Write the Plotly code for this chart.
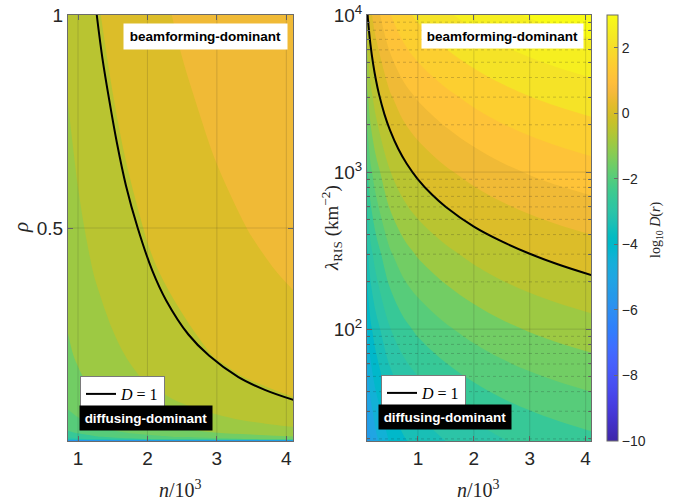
import math
import plotly.graph_objects as go

# ---------------- data ----------------
# left panel: x = n/10^3, y = rho, z = log10 D
n_left = [0.85, 1.0, 1.25, 1.5, 2.0, 2.5, 3.0, 3.5, 4.1]
rho_left = [0, 0.004, 0.01, 0.02, 0.035, 0.05, 0.075, 0.1, 0.15, 0.2, 0.3, 0.4, 0.5, 0.65, 0.8, 1.0]
logD_left = [
    [-7.0, -7.0, -7.0, -7.0, -7.0, -7.0, -7.0, -7.0, -7.0],
    [-2.78, -2.64, -2.44, -2.28, -2.03, -1.84, -1.68, -1.55, -1.41],
    [-2.38, -2.24, -2.04, -1.89, -1.64, -1.44, -1.28, -1.15, -1.01],
    [-2.08, -1.94, -1.74, -1.59, -1.34, -1.14, -0.98, -0.85, -0.71],
    [-1.84, -1.69, -1.50, -1.34, -1.09, -0.90, -0.74, -0.61, -0.47],
    [-1.68, -1.54, -1.35, -1.19, -0.94, -0.74, -0.59, -0.45, -0.31],
    [-1.50, -1.36, -1.17, -1.01, -0.76, -0.57, -0.41, -0.28, -0.14],
    [-1.38, -1.24, -1.04, -0.89, -0.64, -0.44, -0.28, -0.15, -0.01],
    [-1.20, -1.06, -0.86, -0.70, -0.45, -0.26, -0.10, 0.03, 0.17],
    [-1.08, -0.94, -0.74, -0.59, -0.34, -0.14, 0.02, 0.15, 0.29],
    [-0.94, -0.80, -0.60, -0.44, -0.19, 0.00, 0.16, 0.29, 0.43],
    [-0.81, -0.67, -0.47, -0.31, -0.06, 0.13, 0.29, 0.42, 0.56],
    [-0.71, -0.57, -0.38, -0.22, 0.03, 0.22, 0.38, 0.52, 0.65],
    [-0.60, -0.46, -0.26, -0.10, 0.15, 0.34, 0.50, 0.63, 0.77],
    [-0.50, -0.36, -0.16, -0.01, 0.25, 0.44, 0.60, 0.73, 0.87],
    [-0.38, -0.24, -0.05, 0.11, 0.36, 0.56, 0.71, 0.85, 0.99],
]

# right panel: x = n/10^3, y = lambda_RIS (km^-2), z = log10 D
n_right = [0.09, 0.15, 0.25, 0.5, 0.75, 1.0, 1.5, 2.0, 2.5, 3.0, 3.5, 4.1]
lam_right = [19, 30, 100, 300, 1000, 3000, 10000]
logD_right = [
    [-5.54, -5.06, -4.64, -3.96, -3.58, -3.34, -3.01, -2.76, -2.56, -2.40, -2.27, -2.14],
    [-5.15, -4.67, -4.25, -3.57, -3.19, -2.95, -2.62, -2.37, -2.17, -2.01, -1.88, -1.75],
    [-4.10, -3.62, -3.20, -2.52, -2.14, -1.90, -1.57, -1.32, -1.12, -0.96, -0.83, -0.70],
    [-3.15, -2.67, -2.25, -1.57, -1.19, -0.95, -0.62, -0.37, -0.17, -0.01, 0.12, 0.25],
    [-2.10, -1.62, -1.20, -0.52, -0.14, 0.10, 0.43, 0.68, 0.88, 1.04, 1.17, 1.30],
    [-1.15, -0.67, -0.25, 0.43, 0.81, 1.05, 1.38, 1.63, 1.83, 1.99, 2.12, 2.25],
    [-0.10, 0.38, 0.80, 1.48, 1.86, 2.10, 2.43, 2.68, 2.88, 3.04, 3.17, 3.30],
]

# D = 1 boundaries
d1_left_n = [1.27, 1.35, 1.45, 1.56, 1.69, 1.86, 2.07, 2.27, 2.59, 2.89, 3.31, 3.69, 4.11]
d1_left_rho = [1.0, 0.9, 0.8, 0.7, 0.6, 0.5, 0.4, 0.33, 0.25, 0.2, 0.15, 0.12, 0.096]
d1_right_n = [0.10, 0.12, 0.15, 0.2, 0.25, 0.3, 0.4, 0.5, 0.65, 0.8, 1.0, 1.25, 1.5, 2.0, 2.5, 3.0, 3.5, 4.1]
d1_right_lam = [10000, 8250, 6530, 4850, 3840, 3170, 2340, 1850, 1403, 1131, 900, 720, 600, 450, 362, 302, 259, 221]

x_ticks = [1, 2, 3, 4]
rho_ticks = [0.5, 1]
lam_ticks = [100, 1000, 10000]
lam_ticktext = ["10<sup>2</sup>", "10<sup>3</sup>", "10<sup>4</sup>"]
lam_minor = [20, 30, 40, 50, 60, 70, 80, 90, 200, 300, 400, 500, 600, 700, 800, 900,
             2000, 3000, 4000, 5000, 6000, 7000, 8000, 9000]
cbar_ticks = [-10, -8, -6, -4, -2, 0, 2]

# ---------------- styling ----------------
PARULA = [
    (0.2422, 0.1504, 0.6603), (0.2504, 0.1650, 0.7076), (0.2578, 0.1818, 0.7511), (0.2647, 0.1978, 0.7952),
    (0.2706, 0.2147, 0.8364), (0.2751, 0.2342, 0.8710), (0.2783, 0.2559, 0.8991), (0.2803, 0.2782, 0.9221),
    (0.2813, 0.3006, 0.9414), (0.2810, 0.3228, 0.9579), (0.2795, 0.3447, 0.9717), (0.2760, 0.3667, 0.9829),
    (0.2699, 0.3892, 0.9906), (0.2602, 0.4123, 0.9952), (0.2440, 0.4358, 0.9988), (0.2206, 0.4603, 0.9973),
    (0.1963, 0.4847, 0.9892), (0.1834, 0.5074, 0.9798), (0.1786, 0.5289, 0.9682), (0.1764, 0.5499, 0.9520),
    (0.1687, 0.5703, 0.9359), (0.1540, 0.5902, 0.9218), (0.1460, 0.6091, 0.9079), (0.1380, 0.6276, 0.8973),
    (0.1248, 0.6459, 0.8883), (0.1113, 0.6635, 0.8763), (0.0952, 0.6798, 0.8598), (0.0689, 0.6948, 0.8394),
    (0.0297, 0.7082, 0.8163), (0.0036, 0.7203, 0.7917), (0.0067, 0.7312, 0.7660), (0.0433, 0.7411, 0.7394),
    (0.0964, 0.7500, 0.7120), (0.1408, 0.7584, 0.6842), (0.1717, 0.7670, 0.6554), (0.1938, 0.7758, 0.6251),
    (0.2161, 0.7843, 0.5923), (0.2470, 0.7918, 0.5567), (0.2906, 0.7973, 0.5188), (0.3406, 0.8008, 0.4789),
    (0.3909, 0.8029, 0.4354), (0.4456, 0.8024, 0.3909), (0.5044, 0.7993, 0.3480), (0.5616, 0.7942, 0.3045),
    (0.6174, 0.7876, 0.2612), (0.6720, 0.7793, 0.2227), (0.7242, 0.7698, 0.1910), (0.7738, 0.7598, 0.1646),
    (0.8203, 0.7498, 0.1535), (0.8634, 0.7406, 0.1596), (0.9035, 0.7330, 0.1774), (0.9393, 0.7288, 0.2100),
    (0.9728, 0.7298, 0.2394), (0.9956, 0.7434, 0.2371), (0.9970, 0.7659, 0.2199), (0.9952, 0.7893, 0.2028),
    (0.9892, 0.8136, 0.1885), (0.9786, 0.8386, 0.1766), (0.9676, 0.8639, 0.1643), (0.9610, 0.8890, 0.1537),
    (0.9597, 0.9135, 0.1423), (0.9628, 0.9373, 0.1265), (0.9691, 0.9606, 0.1064), (0.9769, 0.9839, 0.0805),
]


def rgb(c):
    return "rgb(%d,%d,%d)" % tuple(round(v * 255) for v in c)


CMIN, CMAX = -10.0, 3.0
LSTART, LEND, LSTEP = -10.0, 3.5, 0.5
nlev = int(round((LEND - LSTART) / LSTEP)) + 1

cs_cont = [[i / 63, rgb(c)] for i, c in enumerate(PARULA)]

# band colours: each band takes the colour of its lower level (MATLAB contourf)
cs_fill = [[0.0, rgb(PARULA[0])]]
for k in range(nlev):
    L = LSTART + k * LSTEP
    p = (L - LSTART + LSTEP) / (LSTEP * nlev)
    idx = int(math.floor((L - CMIN) / (CMAX - CMIN) * 64))
    idx = max(0, min(63, idx))
    cs_fill.append([min(1.0, p), rgb(PARULA[idx])])

contour_cfg = dict(start=LSTART, end=LEND, size=LSTEP, coloring="fill", showlines=False)

SANS = "Liberation Sans, Arial, sans-serif"
SERIF = "Liberation Serif, Times New Roman, serif"
AXC = "#6b6b6b"
TXT = "#262626"
GRID = "rgba(38,38,38,0.16)"
GRIDMINOR = "rgba(38,38,38,0.22)"

# plot-area geometry (pixels)
ML, MR, MT, MB = 68, 684 - 591, 15, 502 - 441
PW = 684 - ML - MR
PH = 502 - MT - MB


def px(xp):
    return (xp - ML) / PW


def py(yp):
    return (502 - MB - yp) / PH


fig = go.Figure()

fig.add_trace(go.Contour(
    x=n_left, y=rho_left, z=logD_left, xaxis="x", yaxis="y",
    autocontour=False, contours=contour_cfg, colorscale=cs_fill,
    showscale=False, line=dict(width=0), hoverinfo="skip"))
fig.add_trace(go.Contour(
    x=n_right, y=lam_right, z=logD_right, xaxis="x2", yaxis="y2",
    autocontour=False, contours=contour_cfg, colorscale=cs_fill,
    showscale=False, line=dict(width=0), hoverinfo="skip"))

fig.add_trace(go.Scatter(
    x=d1_left_n, y=d1_left_rho, xaxis="x", yaxis="y", mode="lines",
    line=dict(color="black", width=2, shape="spline"), name="<i>D</i> = 1",
    legend="legend", showlegend=True))
fig.add_trace(go.Scatter(
    x=d1_right_n, y=d1_right_lam, xaxis="x2", yaxis="y2", mode="lines",
    line=dict(color="black", width=2, shape="spline"), name="<i>D</i> = 1",
    legend="legend2", showlegend=True))

fig.add_trace(go.Scatter(
    x=[None], y=[None], xaxis="x2", yaxis="y2", mode="markers", showlegend=False,
    hoverinfo="skip",
    marker=dict(color=[0], colorscale=cs_cont, cmin=CMIN, cmax=CMAX, showscale=True,
                colorbar=dict(
                    x=px(607), xanchor="left", xpad=0, y=0.5, yanchor="middle",
                    ypad=0, len=1, lenmode="fraction", thickness=11,
                    outlinewidth=1, outlinecolor=AXC,
                    tickmode="array", tickvals=cbar_ticks, ticks="inside", ticklen=4,
                    tickcolor=AXC, tickfont=dict(family=SANS, size=14, color=TXT)))))

shapes = []
for xv in x_ticks:
    for xr, yr in (("x", "y domain"), ("x2", "y2 domain")):
        shapes.append(dict(type="line", xref=xr, yref=yr, x0=xv, x1=xv, y0=0, y1=1,
                           line=dict(color=GRID, width=1), layer="above"))
for yv in rho_ticks[:-1]:
    shapes.append(dict(type="line", xref="x domain", yref="y", x0=0, x1=1, y0=yv, y1=yv,
                       line=dict(color=GRID, width=1), layer="above"))
for yv in lam_ticks[:-1]:
    shapes.append(dict(type="line", xref="x2 domain", yref="y2", x0=0, x1=1, y0=yv, y1=yv,
                       line=dict(color=GRID, width=1), layer="above"))
for yv in lam_minor:
    shapes.append(dict(type="line", xref="x2 domain", yref="y2", x0=0, x1=1, y0=yv, y1=yv,
                       line=dict(color=GRIDMINOR, width=1, dash="dot"), layer="above"))

axis_common = dict(showline=True, linecolor=AXC, linewidth=1, mirror="ticks",
                   ticks="inside", ticklen=5, tickcolor=AXC, showgrid=False, zeroline=False,
                   automargin=False, layer="above traces",
                   tickfont=dict(family=SANS, size=19, color=TXT))

ann_common = dict(showarrow=False, xanchor="center", yanchor="middle")
annotations = [
    dict(text="<b>beamforming-dominant</b>", xref="x domain", yref="y domain",
         x=0.611, y=0.9495, bgcolor="white", font=dict(family=SANS, size=13.5, color="black"),
         width=159, height=21, borderpad=2, **ann_common),
    dict(text="<b>beamforming-dominant</b>", xref="x2 domain", yref="y2 domain",
         x=0.605, y=0.9507, bgcolor="white", font=dict(family=SANS, size=13.5, color="black"),
         width=157, height=20, borderpad=2, **ann_common),
    dict(text="<b>diffusing-dominant</b>", xref="x domain", yref="y domain",
         x=0.3467, y=0.054, bgcolor="black", font=dict(family=SANS, size=13.5, color="white"),
         width=128, height=20, borderpad=2, **ann_common),
    dict(text="<b>diffusing-dominant</b>", xref="x2 domain", yref="y2 domain",
         x=0.348, y=0.0575, bgcolor="black", font=dict(family=SANS, size=13.5, color="white"),
         width=128, height=20, borderpad=2, **ann_common),
    # axis titles
    dict(text="<i>n</i>/10<sup>3</sup>", xref="paper", yref="paper", x=px(180), y=py(475),
         showarrow=False, xanchor="center", yanchor="top",
         font=dict(family=SERIF, size=20, color=TXT)),
    dict(text="<i>n</i>/10<sup>3</sup>", xref="paper", yref="paper", x=px(478), y=py(475),
         showarrow=False, xanchor="center", yanchor="top",
         font=dict(family=SERIF, size=20, color=TXT)),
    dict(text="<i>ρ</i>", xref="paper", yref="paper", x=px(21), y=py(228), textangle=-90,
         showarrow=False, xanchor="center", yanchor="middle",
         font=dict(family=SERIF, size=21, color=TXT)),
    dict(text="<i>λ</i><sub>RIS</sub> (km<sup>−2</sup>)", xref="paper", yref="paper",
         x=px(331), y=py(228), textangle=-90,
         showarrow=False, xanchor="center", yanchor="middle",
         font=dict(family=SERIF, size=19, color=TXT)),
    dict(text="log<sub>10</sub> <i>D</i>(<i>r</i>)", xref="paper", yref="paper",
         x=px(656), y=py(230), textangle=-90,
         showarrow=False, xanchor="center", yanchor="middle",
         font=dict(family=SERIF, size=14, color=TXT)),
]

legend_common = dict(bgcolor="white", bordercolor="#7a7a7a", borderwidth=1,
                     font=dict(family=SERIF, size=16, color="black"),
                     xanchor="left", yanchor="top", itemwidth=30, tracegroupgap=0)

fig.update_layout(
    width=684, height=502, margin=dict(l=ML, r=MR, t=MT, b=MB, autoexpand=False),
    paper_bgcolor="white", plot_bgcolor="white",
    xaxis=dict(domain=[0, px(293)], range=[0.856, 4.096], anchor="y",
               tickvals=x_ticks, **axis_common),
    yaxis=dict(domain=[0, 1], range=[0, 1], anchor="x",
               tickvals=rho_ticks, ticktext=["0.5", "1"], **axis_common),
    xaxis2=dict(domain=[px(367), 1], range=[0.089, 4.096], anchor="y2",
                tickvals=x_ticks, **axis_common),
    yaxis2=dict(domain=[0, 1], type="log",
                range=[math.log10(19.4), 4], anchor="x2",
                tickvals=lam_ticks, ticktext=lam_ticktext,
                minor=dict(tickvals=lam_minor, ticks="inside", ticklen=3, tickcolor=AXC, showgrid=False),
                **axis_common),
    legend=dict(x=px(80), y=py(376), **legend_common),
    legend2=dict(x=px(381), y=py(375), **legend_common),
    shapes=shapes,
    annotations=annotations,
    showlegend=True,
)

fig.write_html("out.html", config={"displayModeBar": False},
               post_script="document.body.style.margin='0px';document.body.style.padding='0px';")
